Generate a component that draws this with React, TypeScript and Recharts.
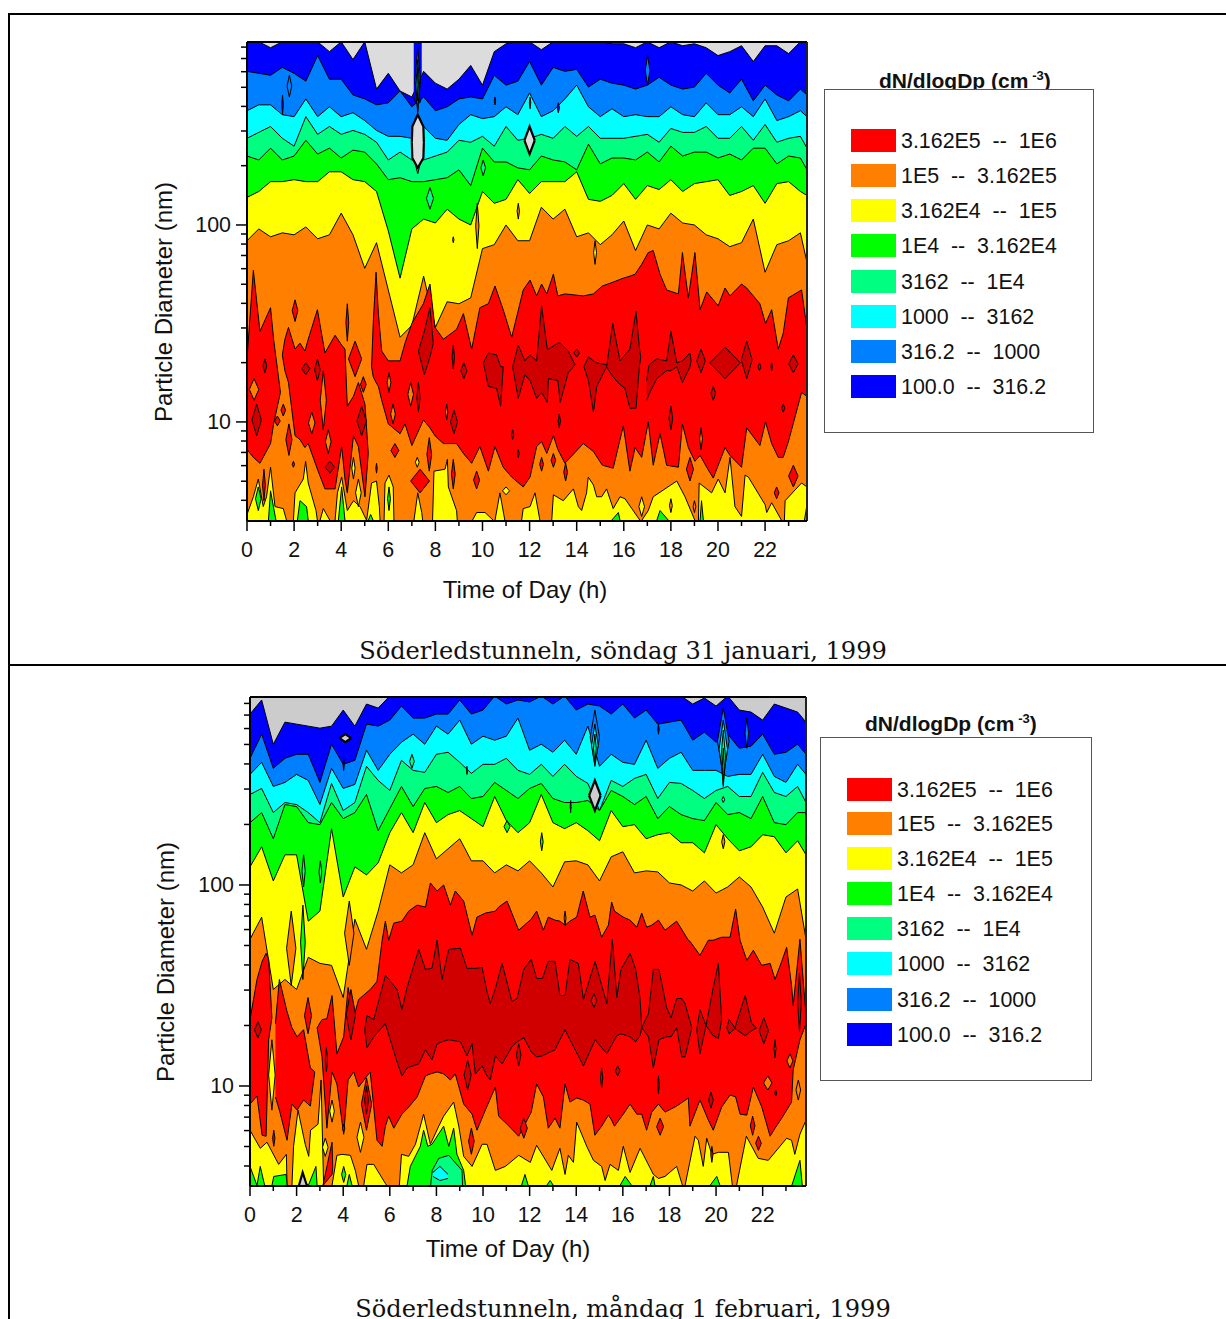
import { Area, ComposedChart, ReferenceLine, XAxis, YAxis } from 'recharts'

// y values are log10 of the particle diameter in nm, x values are hours
const DARK_BLUE = '#0000ff'
const BLUE = '#0080ff'
const CYAN = '#00ffff'
const SPRING = '#00ff80'
const GREEN = '#00ff00'
const YELLOW = '#ffff00'
const ORANGE = '#ff8000'
const RED = '#ff0000'
const DARK_RED = '#d00000'
const GRAY_SUN = '#dcdcdc'
const GRAY_MON = '#cccccc'

const legendLabels = [
  '3.162E5  --  1E6',
  '1E5  --  3.162E5',
  '3.162E4  --  1E5',
  '1E4  --  3.162E4',
  '3162  --  1E4',
  '1000  --  3162',
  '316.2  --  1000',
  '100.0  --  316.2',
]
const legendColors = [RED, ORANGE, YELLOW, GREEN, SPRING, CYAN, BLUE, DARK_BLUE]

const hourTicks = Array.from({ length: 24 }, (_, i) => i)
const sizeTicks = [4, 5, 6, 7, 8, 9, 10, 20, 30, 40, 50, 60, 70, 80, 90, 100, 200, 300, 400, 500, 600, 700, 800]

const halfHours = Array.from({ length: 48 }, (_, i) => i / 2)
const hours1 = [...halfHours, 23.78]
const hours2 = [...halfHours, 23.86]

// ---- Sunday: contour edges, top to bottom
const grayEdge1 = [2.93,2.93,2.90,2.93,2.93,2.93,2.93,2.88,2.93,2.84,2.93,2.69,2.77,2.68,2.65,2.78,2.72,2.69,2.74,2.81,2.71,2.88,2.92,2.93,2.93,2.89,2.93,2.93,2.93,2.93,2.93,2.92,2.92,2.90,2.93,2.90,2.93,2.91,2.92,2.90,2.86,2.88,2.91,2.83,2.91,2.91,2.87,2.93,2.93]
const darkBlueEdge1 = [2.78,2.77,2.76,2.80,2.77,2.73,2.86,2.74,2.74,2.66,2.64,2.61,2.62,2.68,2.60,2.65,2.58,2.60,2.64,2.65,2.64,2.76,2.71,2.73,2.83,2.71,2.80,2.78,2.79,2.70,2.74,2.72,2.71,2.69,2.71,2.75,2.71,2.69,2.70,2.77,2.71,2.67,2.74,2.63,2.71,2.66,2.63,2.69,2.66]
const blueEdge1 = [2.58,2.61,2.61,2.56,2.55,2.64,2.55,2.60,2.55,2.57,2.53,2.48,2.45,2.45,2.44,2.50,2.44,2.43,2.51,2.56,2.54,2.55,2.60,2.56,2.67,2.55,2.58,2.64,2.71,2.60,2.55,2.59,2.55,2.56,2.55,2.55,2.60,2.56,2.55,2.62,2.56,2.56,2.60,2.55,2.64,2.53,2.55,2.58,2.55]
const cyanEdge1 = [2.44,2.47,2.50,2.44,2.40,2.55,2.46,2.50,2.46,2.48,2.46,2.42,2.33,2.37,2.33,2.33,2.35,2.37,2.43,2.42,2.45,2.40,2.50,2.43,2.44,2.46,2.44,2.50,2.45,2.50,2.44,2.44,2.44,2.45,2.46,2.42,2.49,2.47,2.47,2.50,2.44,2.44,2.50,2.43,2.51,2.42,2.44,2.45,2.39]
const springEdge1 = [2.35,2.33,2.39,2.33,2.35,2.43,2.36,2.39,2.34,2.38,2.37,2.31,2.23,2.24,2.22,2.22,2.23,2.24,2.28,2.20,2.39,2.32,2.32,2.29,2.28,2.35,2.33,2.32,2.28,2.41,2.31,2.34,2.34,2.33,2.37,2.32,2.40,2.35,2.37,2.37,2.34,2.36,2.33,2.39,2.39,2.31,2.35,2.34,2.28]
const greenEdge1 = [2.14,2.17,2.22,2.22,2.23,2.22,2.22,2.27,2.27,2.23,2.22,2.17,1.97,1.73,1.98,2.03,2.01,2.08,2.03,2.00,2.17,2.11,2.13,2.23,2.16,2.22,2.22,2.22,2.27,2.13,2.12,2.15,2.21,2.13,2.20,2.18,2.23,2.17,2.21,2.22,2.23,2.15,2.17,2.20,2.11,2.21,2.22,2.17,2.15]
const yellowEdge1 = [1.92,1.98,1.94,1.96,1.95,1.99,1.93,1.95,2.06,1.95,1.78,1.91,1.67,1.43,1.49,1.74,1.48,1.61,1.60,1.63,1.88,1.90,2.00,1.92,1.92,2.09,2.03,2.08,1.94,1.96,1.90,1.95,2.02,1.87,2.00,1.98,2.06,2.01,2.00,1.95,1.93,1.89,1.91,2.03,1.76,1.90,1.92,1.96,1.81]

// ---- Sunday: closed patches as [hours, high edge, low edge]; no low edge means down to the axis
const redPieces1 = [
  [[0,.27,.55,1.0,1.13,1.42],[1.32,1.77,1.46,1.58,1.42,1.15],[.86,.82,.79,.89,.99,1.15]],
  [[1.5,1.61,1.76,2.04,2.25,2.46,2.6,2.99,3.31,3.74,4.02,4.16,4.26,4.52,4.73,5.01,5.15],[1.34,1.42,1.48,1.37,1.40,1.36,1.42,1.57,1.35,1.44,1.39,1.37,1.08,1.13,1.20,1.09,.84],[1.34,1.26,1.20,.93,.91,.87,.89,.76,.66,.66,.875,.71,.64,.93,.875,.62,.84]],
  [[5.29,5.36,5.48,5.58,5.72,6.0,6.5,6.71,7.0,7.49,7.77,7.98,8.34,8.9,9.19,9.54,9.89,10.25,10.53,10.88,11.24,11.73,12.02,12.3,12.51,12.73,13.01,13.2,13.5,14.28,14.71,15.09,15.55,15.98,16.26,16.48,16.76,17.04,17.25,17.54,17.82,18.32,18.49,18.74,19.02,19.24,19.52,19.8,20.01,20.3,20.51,21.0,21.22,21.78,22.02,22.28,22.56,22.77,22.99,23.55,23.78],
   [1.28,1.50,1.76,1.55,1.36,1.31,1.31,1.40,1.50,1.60,1.70,1.48,1.42,1.47,1.55,1.37,1.58,1.60,1.69,1.57,1.43,1.67,1.72,1.64,1.70,1.65,1.75,1.64,1.65,1.64,1.65,1.69,1.71,1.73,1.74,1.75,1.80,1.86,1.87,1.75,1.67,1.65,1.86,1.63,1.86,1.57,1.66,1.62,1.59,1.68,1.64,1.70,1.68,1.60,1.50,1.57,1.37,1.45,1.63,1.67,1.47],
   [1.28,1.23,1.20,1.18,1.11,.99,.94,.99,.88,1.01,.97,.93,.89,.89,.84,.79,.875,.75,.875,.77,.72,.67,.72,.875,.90,.84,.93,.86,.79,.89,.85,.78,.765,.98,.75,.87,.82,1.0,.78,.94,.78,.77,.99,.87,.80,.83,.77,.715,.78,.87,.83,.77,.97,.88,1.0,.89,.82,.82,.90,1.15,1.13]],
]
const darkRedPieces1 = [
  [[7.28,7.53,7.77,7.91],[1.36,1.46,1.58,1.40],[1.36,1.24,1.33,1.40]],
  [[10.04,10.25,10.6,10.77,10.88],[1.30,1.35,1.34,1.28,1.28],[1.30,1.18,1.17,1.08,1.28]],
  [[11.28,11.52,11.8,12.02,12.3,12.51,12.75,12.8,13.2,13.3,13.64,13.93],[1.28,1.39,1.31,1.34,1.31,1.59,1.37,1.37,1.40,1.40,1.36,1.29],[1.28,1.12,1.24,1.21,1.12,1.15,1.10,1.22,1.21,1.10,1.25,1.29]],
  [[14.31,14.5,14.71,14.85,15.27],[1.28,1.33,1.31,1.30,1.29],[1.28,1.21,1.05,1.18,1.28]],
  [[15.27,15.53,15.84,16.05,16.26,16.52,16.66,16.72],[1.28,1.50,1.31,1.34,1.37,1.56,1.38,1.33],[1.28,1.23,1.19,1.17,1.07,1.07,1.28,1.33]],
  [[16.97,17.07,17.4,17.82,18.0,18.25,18.49,18.81,18.86],[1.21,1.29,1.32,1.31,1.46,1.30,1.31,1.35,1.31],[1.11,1.14,1.22,1.26,1.26,1.28,1.20,1.28,1.31]],
]
const yellowPieces1 = [
  [[0,.27,.48,.69,.83,1.0,1.19,1.54,1.68],[.53,.62,.71,.57,.62,.77,.57,.56,.50]],
  [[1.97,2.04,2.39,2.49,2.6,2.93,2.99],[.50,.64,.71,.80,.69,.55,.50]],
  [[3.1,3.24,3.52],[.50,.56,.50]],
  [[3.74,3.84,4.02,4.16,4.26,4.52,4.8,5.08],[.50,.64,.72,.62,.55,.60,.57,.50]],
  [[5.08,5.29,5.5,5.62,5.65],[.50,.69,.70,.57,.50]],
  [[5.82,5.86,6.03,6.21,6.24],[.50,.69,.73,.67,.50]],
  [[7.09,7.25,7.42,7.46],[.50,.64,.54,.50]],
  [[7.88,7.94,8.41,8.51,8.55,8.9,8.93],[.50,.75,.76,.81,.67,.55,.50]],
  [[9.57,9.75,10.11,10.46],[.50,.54,.54,.50]],
  [[10.53,10.74,10.95],[.50,.64,.50]],
  [[11.66,11.73,12.02,12.23,12.44],[.50,.56,.57,.64,.50]],
  [[12.94,13.01,13.43,13.86,14.07,14.21,14.42,14.49,14.71,14.85,15.06,15.27,15.55,15.84,16.05,16.69],[.50,.63,.60,.66,.57,.55,.64,.72,.68,.62,.62,.66,.56,.62,.61,.50]],
  [[16.76,17.04,17.25,18.25,18.6,19.02],[.50,.55,.62,.70,.62,.50]],
  [[19.17,19.2,19.73,20.01,20.3,20.51,20.72,21.0,21.15,21.29,22.0,22.07,22.28,22.7],[.50,.69,.64,.71,.64,.82,.57,.52,.73,.72,.58,.54,.59,.50]],
  [[22.82,22.85,23.55,23.78],[.50,.60,.69,.67]],
]
const greenPieces1 = [
  [[.91,1.0,1.23],[.50,.65,.50]],
  [[2.14,2.25,2.53,2.6],[.50,.60,.57,.50]],
  [[3.88,4.02,4.16],[.50,.67,.50]],
  [[5.15,5.25,5.36],[.50,.53,.50]],
  [[15.48,15.77,15.84],[.50,.54,.50]],
  [[17.4,17.54,17.9],[.50,.55,.50]],
  [[19.24,19.3,19.38],[.50,.60,.50]],
  [[23.67,23.78],[.50,.58]],
]
const spikePieces1 = [[[7.08,7.16,7.34,7.42],[2.93,2.93,2.93,2.93],[2.65,2.62,2.62,2.65]]]
const grayHexPieces1 = [[[7.0,7.02,7.25,7.49,7.51],[2.42,2.50,2.56,2.50,2.42],[2.42,2.34,2.29,2.34,2.42]]]

// ---- Sunday: small diamonds as [hour, half width, high, low]
const darkBlueIslands1 = [[1.51,.03,2.66,2.56],[10.53,.03,2.65,2.61],[12.02,.03,2.65,2.59],[13.22,.05,2.62,2.57]]
const blueIslands1 = [[1.8,.1,2.76,2.65],[7.25,.12,2.90,2.57],[17.01,.1,2.86,2.71]]
const cyanIslands1 = [[7.25,.08,2.84,2.58],[7.25,.25,2.5,2.26]]
const springIslands1 = [[7.77,.15,2.19,2.08],[10.03,.1,2.33,2.25]]
const greenIslands1 = [[7.25,.03,2.80,2.63],[.48,.12,.67,.55],[6.03,.06,.67,.55]]
const yellowIslands1 = [[14.78,.06,1.92,1.80],[4.52,.07,.82,.71],[4.73,.12,.71,.57],[7.23,.08,.82,.77],[11,.15,.67,.63],[16.76,.12,.62,.52]]
const orangeIslands1 = [[11.52,.05,2.11,2.03],[9.78,.07,2.11,1.88],[8.76,.03,1.94,1.91],[.3,.2,1.22,1.11],[2.75,.14,1.05,.94],[3.24,.13,1.26,.96],[3.45,.12,.96,.84],[6.03,.08,1.25,1.15],[6.2,.1,1.09,.99],[6.95,.12,1.20,1.08],[8.48,.05,1.09,1.01],[19.28,.06,.97,.86],[18.0,.06,.61,.54],[19.0,.06,.60,.54]]
const redIslands1 = [[2.04,.12,1.62,1.51],[4.26,.06,1.60,1.41],[.72,.06,.76,.60],[1.54,.1,1.09,1.03],[1.29,.12,1.03,.98],[1.78,.13,.99,.83],[6.28,.17,.89,.82],[7.74,.1,.92,.75],[8.76,.08,.81,.66],[9.75,.13,.75,.66],[5.5,.03,.79,.74],[1.97,.05,.80,.77],[4.59,.28,1.41,1.23],[7.35,.4,.76,.64],[4.94,.12,1.23,1.15],[12.51,.08,.82,.75],[13.01,.1,.84,.77],[13.53,.08,.79,.70],[18.81,.15,.82,.70],[23.2,.2,.78,.67],[22.49,.1,.67,.61]]
const darkRedIslands1 = [[.41,.2,1.09,.93],[.76,.08,1.32,1.25],[2.5,.17,1.30,1.24],[2.99,.12,1.32,1.21],[3.52,.2,.80,.74],[4.87,.2,1.08,.93],[8.76,.05,1.39,1.27],[9.21,.13,1.30,1.22],[8.79,.15,1.06,.94],[7.28,.07,1.20,1.05],[11.28,.05,.96,.91],[11.52,.04,.86,.82],[14.0,.12,1.37,1.33],[19.28,.18,1.37,1.25],[20.3,.65,1.38,1.22],[21.22,.23,1.41,1.22],[21.76,.06,1.30,1.26],[22.28,.03,1.30,1.26],[23.2,.2,1.34,1.25],[19.8,.1,1.18,1.11],[18.0,.08,1.08,.96],[22.77,.07,1.09,1.05],[13.26,.05,1.04,.97]]
const grayIslands1 = [[12.0,.22,2.50,2.36]]

// ---- Monday: contour edges, top to bottom
const grayEdge2 = [2.85,2.92,2.70,2.81,2.80,2.79,2.78,2.79,2.87,2.79,2.90,2.88,2.94,2.94,2.94,2.94,2.94,2.94,2.94,2.94,2.94,2.94,2.94,2.94,2.94,2.94,2.94,2.94,2.94,2.94,2.94,2.94,2.94,2.94,2.94,2.94,2.94,2.94,2.90,2.93,2.89,2.94,2.87,2.86,2.82,2.90,2.88,2.86,2.81]
const darkBlueEdge2 = [2.63,2.75,2.58,2.63,2.65,2.65,2.51,2.70,2.60,2.62,2.80,2.79,2.82,2.89,2.83,2.83,2.85,2.85,2.92,2.85,2.87,2.94,2.90,2.92,2.91,2.94,2.90,2.94,2.87,2.90,2.89,2.85,2.90,2.83,2.87,2.80,2.81,2.82,2.72,2.76,2.71,2.75,2.68,2.69,2.75,2.65,2.66,2.70,2.65]
const blueEdge2 = [2.55,2.61,2.49,2.51,2.55,2.52,2.40,2.58,2.48,2.50,2.67,2.57,2.65,2.71,2.75,2.70,2.79,2.75,2.82,2.70,2.74,2.72,2.74,2.83,2.67,2.70,2.66,2.72,2.65,2.79,2.59,2.65,2.61,2.60,2.72,2.58,2.63,2.66,2.57,2.57,2.57,2.54,2.55,2.55,2.65,2.54,2.51,2.60,2.55]
const cyanEdge2 = [2.45,2.48,2.36,2.41,2.40,2.36,2.31,2.505,2.37,2.41,2.59,2.52,2.47,2.62,2.57,2.56,2.65,2.66,2.61,2.555,2.60,2.60,2.63,2.57,2.55,2.60,2.54,2.60,2.54,2.505,2.37,2.52,2.49,2.53,2.55,2.43,2.51,2.505,2.47,2.43,2.47,2.49,2.44,2.44,2.56,2.46,2.44,2.49,2.41]
const springEdge2 = [2.31,2.36,2.23,2.40,2.39,2.31,2.30,2.41,2.33,2.36,2.45,2.27,2.38,2.49,2.39,2.48,2.49,2.46,2.49,2.43,2.44,2.51,2.47,2.43,2.48,2.505,2.43,2.41,2.41,2.42,2.37,2.47,2.44,2.40,2.44,2.33,2.39,2.35,2.33,2.32,2.41,2.35,2.36,2.33,2.44,2.31,2.30,2.36,2.36]
const greenEdge2 = [2.09,2.19,2.02,2.15,2.15,1.82,1.87,2.28,1.94,2.09,2.05,2.11,2.26,2.36,2.26,2.41,2.31,2.35,2.37,2.33,2.29,2.44,2.32,2.26,2.31,2.45,2.31,2.28,2.31,2.27,2.22,2.37,2.29,2.30,2.23,2.25,2.26,2.21,2.21,2.16,2.30,2.23,2.17,2.19,2.25,2.24,2.16,2.22,2.15]
const yellowEdge2 = [1.73,1.84,1.48,1.53,1.48,1.64,1.61,1.60,1.44,1.83,1.68,1.87,2.10,2.06,2.10,2.26,2.13,2.18,2.23,2.12,2.12,2.06,2.10,2.07,2.12,2.06,1.99,2.115,2.12,2.10,2.02,2.14,2.165,2.06,2.07,2.065,2.01,2.00,1.97,2.02,1.96,1.99,2.04,1.99,1.89,1.76,1.94,1.98,1.73]

// ---- Monday: closed patches
const redPieces2 = [
  [[0,.3,.52,.69,.8,.94],[1.33,1.53,1.62,1.66,1.63,1.34],[.91,.95,.755,.75,1.23,1.34]],
  [[1.09,1.26,1.59,1.8,2.02,2.3,2.59,2.78],[1.31,1.53,1.37,1.29,1.245,1.28,1.09,1.07],[.945,.88,.73,.91,.88,.93,.90,1.07]],
  [[2.88,3.09,3.30,3.52,3.73,4.02,4.21,4.45,4.66,5.16,5.45,5.67,5.81,5.95,6.17,6.52,6.81,7.17,7.53,7.74,8.03,8.31,8.6,8.81,9.17,9.53,9.74,10.1,10.53,10.67,11.03,11.53,12.07,12.3,12.59,12.8,13.09,13.3,13.52,13.73,14.02,14.3,14.59,14.8,15.09,15.38,15.52,15.64,16.02,16.31,16.6,16.81,17.02,17.24,17.53,17.81,18.31,18.81,18.88,19.31,19.67,19.88,20.24,20.6,20.84,21.03,21.32,21.6,21.96,22.32,22.53,22.82,23.03,23.24,23.31,23.6,23.86],
   [1.29,1.33,1.335,1.45,1.16,1.245,1.49,1.34,1.43,1.48,1.52,1.725,1.82,1.725,1.81,1.82,1.87,1.90,1.89,2.01,1.97,2.00,1.90,1.97,1.92,1.75,1.84,1.86,1.87,1.89,1.92,1.775,1.83,1.87,1.775,1.84,1.825,1.82,1.80,1.82,1.84,1.97,1.84,1.85,1.74,1.80,1.915,1.87,1.84,1.825,1.79,1.86,1.79,1.80,1.825,1.775,1.82,1.725,1.72,1.65,1.725,1.725,1.74,1.74,1.88,1.725,1.625,1.675,1.60,1.61,1.53,1.62,1.69,1.50,1.40,1.73,1.35],
   [1.29,1.145,.79,1.07,1.01,.76,1.03,1.07,.995,1.07,.73,.70,.80,.85,.79,.86,.895,.945,1.05,1.06,1.07,1.06,1.03,1.06,.91,.86,.78,.88,.995,.85,.81,.75,.87,1.01,.946,.79,.84,.79,1.01,.92,.94,.93,.91,.755,.80,.855,.83,.80,.86,.91,.86,.86,.78,.87,.91,.87,.90,.94,.80,.93,.83,.78,.895,.955,.946,.86,.855,.995,.896,.75,.79,.84,.88,.92,1.08,1.23,1.31]],
  [[3.13,3.52,3.55],[.505,.72,.60],[.505,.56,.60]],
]
const darkRedPieces2 = [
  [[4.92,5.02,5.31,5.81,6.31,6.52,6.74,7.24,7.53,7.81,8.03,8.24,8.53,9.03,9.31,9.53,9.67,9.96,10.17,10.31,10.53,10.82,11.24,11.46,11.75,12.07,12.3,12.55,12.8,13.09,13.3,13.52,13.73,14.09,14.31,14.81,15.31,15.55,15.74,15.92,16.31,16.55,16.74,16.81],
   [1.28,1.35,1.33,1.55,1.48,1.38,1.49,1.68,1.58,1.585,1.726,1.53,1.68,1.685,1.585,1.585,1.585,1.59,1.47,1.41,1.485,1.61,1.42,1.435,1.58,1.63,1.535,1.535,1.62,1.62,1.45,1.45,1.63,1.61,1.43,1.62,1.41,1.73,1.44,1.58,1.66,1.58,1.435,1.29],
   [1.28,1.19,1.245,1.31,1.12,1.05,1.09,1.11,1.18,1.13,1.21,1.22,1.23,1.22,1.15,1.21,1.06,1.10,1.05,1.03,1.15,1.11,1.195,1.22,1.24,1.17,1.145,1.15,1.165,1.18,1.23,1.28,1.23,1.15,1.10,1.23,1.16,1.21,1.25,1.26,1.245,1.22,1.25,1.29]],
  [[16.81,17.1,17.31,17.55,17.88,18.07,18.31,18.53,18.67,18.96],[1.29,1.36,1.58,1.58,1.39,1.34,1.435,1.435,1.41,1.29],[1.29,1.245,1.09,1.23,1.245,1.245,1.29,1.145,1.145,1.29]],
  [[19.17,19.31,19.57,19.88,20.1,20.24],[1.28,1.38,1.30,1.49,1.61,1.33],[1.28,1.16,1.30,1.25,1.236,1.33]],
  [[20.46,20.56,20.81,21.25,21.53,21.75],[1.29,1.33,1.29,1.45,1.31,1.29],[1.29,1.26,1.286,1.25,1.275,1.29]],
]
const yellowPieces2 = [
  [[0,.44,.73,1.23,1.56,1.59],[.78,.69,.72,.61,.66,.505]],
  [[1.8,1.87,2.06,2.37,2.52,2.6,2.92,3.05,3.16],[.505,.70,.88,.71,.65,.78,.81,1.03,.505]],
  [[3.52,3.73,3.95,4.31,4.52,4.66],[.505,.655,.66,.655,.58,.505]],
  [[4.88,5.02,5.31,5.81,5.88],[.505,.61,.61,.515,.505]],
  [[6.41,6.5,6.81,7.1,7.45,7.74,8.1,8.31,8.74,8.96,9.17,9.53,9.96,10.17,10.53,10.96,11.53,12.03,12.3,12.95,13.3,13.52,13.66,13.88,14.02,14.45,14.74,15.09,15.24,15.45,15.81,16.02,16.31,16.74,17.31,17.53,17.81,18.31,18.56],
   [.505,.66,.65,.71,.86,.71,.80,.85,.92,.80,.65,.60,.71,.71,.58,.60,.655,.62,.705,.58,.69,.56,.655,.62,.82,.70,.63,.60,.53,.61,.58,.70,.57,.69,.56,.54,.55,.60,.505]],
  [[18.67,19.1,19.24,19.45,19.6,19.82,20.1,20.53,20.7],[.505,.75,.73,.60,.74,.66,.67,.67,.505]],
  [[20.88,21.3,21.81,22.24,23.03,23.24,23.38,23.6,23.86],[.505,.75,.64,.63,.74,.73,.66,.76,.83]],
]
const greenPieces2 = [
  [[0,.3],[.60,.505]],
  [[.3,.44,.63],[.505,.60,.505]],
  [[.94,1.02,1.55,1.59],[.505,.55,.56,.505]],
  [[2.3,2.52,2.83,2.88],[.505,.51,.60,.505]],
  [[4.16,4.26,4.38],[.505,.56,.505]],
  [[6.74,6.88,7.31,7.45,7.63,7.81,8.31,8.53,8.74,8.88,9.17,9.25],[.505,.60,.70,.78,.70,.71,.80,.70,.79,.66,.58,.505]],
  [[11.65,11.8,11.94],[.505,.56,.505]],
  [[12.73,12.88,13.02],[.505,.53,.505]],
  [[15.88,16.1,16.38],[.505,.55,.505]],
  [[17.17,17.31,17.38],[.505,.55,.505]],
  [[19.74,20.03,20.17],[.505,.55,.505]],
  [[23.25,23.6,23.7],[.505,.63,.505]],
]
const springPieces2 = [[[7.75,7.82,8.1,8.53,9.1,9.12],[.505,.58,.64,.655,.58,.505]]]
const cyanPieces2 = [[[7.85,8.15,8.5],[.57,.60,.56],[.55,.53,.54]]]
const grayPieces2 = [[[2.1,2.26,2.44],[.505,.57,.505]]]

// ---- Monday: small diamonds
const darkBlueIslands2 = [[4.02,.03,2.63,2.57],[13.76,.02,2.42,2.36],[17.53,.03,2.80,2.75]]
const blueIslands2 = [[14.8,.2,2.87,2.6],[20.31,.25,2.88,2.55],[21.32,.08,2.83,2.68]]
const cyanIslands2 = [[14.8,.14,2.80,2.59],[20.31,.18,2.82,2.53],[20.31,.06,2.44,2.41]]
const springIslands2 = [[14.8,.06,2.75,2.61],[20.31,.1,2.77,2.49],[2.3,.07,2.15,1.99],[3.02,.06,2.12,2.01],[6.95,.1,2.65,2.58]]
const greenIslands2 = [[20.31,.04,2.68,2.50],[11.03,.13,2.32,2.26],[9.31,.02,2.59,2.55],[2.27,.1,1.9,1.53],[12.52,.06,2.26,2.17],[4.02,.09,.60,.52]]
const yellowIslands2 = [[4.74,.15,.82,.67],[3.23,.12,.74,.65],[3.52,.1,.93,.82],[.94,.14,1.23,.88]]
const orangeIslands2 = [[1.77,.2,1.87,1.50],[4.26,.2,1.92,1.6],[20.31,.07,2.25,2.18],[13.52,.04,1.87,1.80],[22.53,.04,1.23,1.14],[22.22,.18,1.05,.98],[23.53,.1,1.03,.93],[23.17,.13,1.16,1.09]]
const redIslands2 = [[2.49,.15,1.44,1.26],[5.0,.22,1.04,.78],[4.02,.05,.81,.77],[9.5,.12,.79,.66],[11.75,.15,.84,.74],[1.02,.05,.78,.70],[14.76,.12,1.46,1.39],[17.6,.15,.84,.755],[21.57,.1,.85,.755],[21.82,.12,.75,.68],[19.82,.05,.70,.62]]
const darkRedIslands2 = [[.34,.15,1.32,1.24],[4.33,.2,1.48,1.23],[3.28,.05,1.19,1.07],[5.0,.08,1.0,.86],[9.34,.15,1.13,.98],[11.53,.1,1.21,1.10],[19.78,.1,.97,.89],[15.78,.1,1.10,1.05],[15.09,.05,1.09,.99],[17.53,.03,1.05,.96],[22.56,.04,.98,.95],[22.05,.2,1.34,1.21],[23.58,.08,1.56,1.27]]
const grayIslands2 = [[14.8,.25,2.52,2.37],[4.09,.25,2.75,2.71]]

type Piece = number[][]
type Island = number[]

function ContourPlot({ left, top, width, height, yAxisWidth, plotWidth, marginTop, xAxisHeight, xMax, yMin, yMax, hours, edges, pieces, islands, topPieces, bg }: any) {
  const rows = hours.map((t: number, i: number) => {
    const row: Record<string, number> = { t }
    edges.forEach((e: { values: number[] }, j: number) => { row['e' + j] = e.values[i] })
    return row
  })
  const patches: { color: string; rows: object[] }[] = []
  const addPieces = ([color, list]: [string, Piece[]]) => list.forEach(([t, hi, lo]) => {
    patches.push({ color, rows: t.map((v, i) => ({ t: v, range: [lo ? lo[i] : yMin, hi[i]] })) })
  })
  pieces.forEach(addPieces)
  islands.forEach(([color, list]: [string, Island[]]) => list.forEach(([t, half, hi, lo]) => {
    const mid = (hi + lo) / 2
    patches.push({ color, rows: [{ t: t - half, range: [mid, mid] }, { t, range: [lo, hi] }, { t: t + half, range: [mid, mid] }] })
  }))
  topPieces.forEach(addPieces)

  return (
    <div style={{ position: 'absolute', left, top }}>
      <ComposedChart width={width} height={height} data={rows} margin={{ top: marginTop, right: width - yAxisWidth - plotWidth, bottom: 0, left: 0 }}>
        <XAxis
          dataKey="t"
          type="number"
          domain={[0, xMax]}
          ticks={hourTicks}
          interval={0}
          height={xAxisHeight}
          tickSize={0}
          tickMargin={0}
          axisLine={{ stroke: '#000', strokeWidth: 2 }}
          tickLine={false}
          tick={HourTick}
        />
        <YAxis
          type="number"
          domain={[yMin, yMax]}
          allowDataOverflow
          ticks={sizeTicks.map(v => Math.log10(v))}
          interval={0}
          width={yAxisWidth}
          tickSize={0}
          tickMargin={0}
          axisLine={{ stroke: '#000', strokeWidth: 2 }}
          tickLine={false}
          tick={SizeTick}
        />
        <Area dataKey={() => yMax} fill={bg} fillOpacity={1} stroke="none" isAnimationActive={false} dot={false} activeDot={false} />
        {edges.map((e: { color: string }, j: number) => (
          <Area key={j} type="linear" dataKey={'e' + j} fill={e.color} fillOpacity={1} stroke="#000" strokeWidth={1} isAnimationActive={false} dot={false} activeDot={false} />
        ))}
        {patches.map((p, i) => (
          <Area
            key={'p' + i}
            data={p.rows}
            type="linear"
            dataKey="range"
            fill={p.color}
            fillOpacity={1}
            stroke="#000"
            strokeWidth={p.color === GRAY_SUN || p.color === GRAY_MON ? 2.2 : 1}
            isAnimationActive={false}
            dot={false}
            activeDot={false}
          />
        ))}
        <ReferenceLine y={yMax} stroke="#000" strokeWidth={2} />
        <ReferenceLine x={xMax} stroke="#222" strokeWidth={2} />
      </ComposedChart>
    </div>
  )
}

function HourTick({ x, y, payload }: any) {
  const even = payload.value % 2 === 0
  return (
    <g>
      <line x1={x} x2={x} y1={y} y2={y + (even ? 10 : 5)} stroke="#000" strokeWidth={1.5} />
      {even && <text x={x} y={y + 36} textAnchor="middle" fontFamily="Liberation Sans" fontSize={21.4} fill="#111">{payload.value}</text>}
    </g>
  )
}

function SizeTick({ x, y, payload }: any) {
  const major = Math.abs(payload.value - Math.round(payload.value)) < 0.001
  return (
    <g>
      <line x1={x} x2={x - (major ? 11 : 6)} y1={y} y2={y} stroke="#000" strokeWidth={1.5} />
      {major && <text x={x - 16} y={y + 7} textAnchor="end" fontFamily="Liberation Sans" fontSize={21.4} fill="#111">{Math.round(10 ** payload.value)}</text>}
    </g>
  )
}

function Legend({ left, top, width, height, titleLeft, titleTop, rowTops, swatchLeft }: any) {
  return (
    <>
      <div style={{ position: 'absolute', left: titleLeft, top: titleTop, font: 'bold 21px "Liberation Sans"', whiteSpace: 'pre', color: '#111' }}>
        dN/dlogDp (cm <sup style={{ fontSize: 13, verticalAlign: 8, lineHeight: 0, marginLeft: -2 }}>-3</sup>)
      </div>
      <div style={{ position: 'absolute', left, top, width, height, background: '#fff', border: '1px solid #555', boxSizing: 'border-box' }} />
      {legendLabels.map((label, i) => (
        <div key={label}>
          <div style={{ position: 'absolute', left: swatchLeft, top: rowTops[i], width: 45, height: 23, background: legendColors[i] }} />
          <div style={{ position: 'absolute', left: swatchLeft + 50, top: rowTops[i], font: '21.4px/24px "Liberation Sans"', whiteSpace: 'pre', color: '#111' }}>{label}</div>
        </div>
      ))}
    </>
  )
}

function AxisTitle({ x, y, children, rotate }: any) {
  return (
    <div style={{ position: 'absolute', left: x, top: y, transform: `translate(-50%,-50%)${rotate ? ' rotate(-90deg)' : ''}`, font: '24px "Liberation Sans"', whiteSpace: 'nowrap', color: '#111' }}>
      {children}
    </div>
  )
}

function Caption({ x, y, children }: any) {
  return (
    <div style={{ position: 'absolute', left: x, top: y, transform: 'translate(-50%,-50%)', font: '24.1px "DejaVu Serif"', whiteSpace: 'nowrap', color: '#111' }}>
      {children}
    </div>
  )
}

const edges1 = [
  { color: DARK_BLUE, values: grayEdge1 }, { color: BLUE, values: darkBlueEdge1 }, { color: CYAN, values: blueEdge1 },
  { color: SPRING, values: cyanEdge1 }, { color: GREEN, values: springEdge1 }, { color: YELLOW, values: greenEdge1 }, { color: ORANGE, values: yellowEdge1 },
]
const edges2 = [
  { color: DARK_BLUE, values: grayEdge2 }, { color: BLUE, values: darkBlueEdge2 }, { color: CYAN, values: blueEdge2 },
  { color: SPRING, values: cyanEdge2 }, { color: GREEN, values: springEdge2 }, { color: YELLOW, values: greenEdge2 }, { color: ORANGE, values: yellowEdge2 },
]
const pieces1 = [[YELLOW, yellowPieces1], [GREEN, greenPieces1], [RED, redPieces1], [DARK_RED, darkRedPieces1], [DARK_BLUE, spikePieces1]]
const pieces2 = [[YELLOW, yellowPieces2], [GREEN, greenPieces2], [SPRING, springPieces2], [CYAN, cyanPieces2], [GRAY_MON, grayPieces2], [RED, redPieces2], [DARK_RED, darkRedPieces2]]
const islands1 = [[DARK_BLUE, darkBlueIslands1], [BLUE, blueIslands1], [CYAN, cyanIslands1], [SPRING, springIslands1], [GREEN, greenIslands1], [YELLOW, yellowIslands1], [ORANGE, orangeIslands1], [RED, redIslands1], [DARK_RED, darkRedIslands1], [GRAY_SUN, grayIslands1]]
const islands2 = [[DARK_BLUE, darkBlueIslands2], [BLUE, blueIslands2], [CYAN, cyanIslands2], [SPRING, springIslands2], [GREEN, greenIslands2], [YELLOW, yellowIslands2], [ORANGE, orangeIslands2], [RED, redIslands2], [DARK_RED, darkRedIslands2], [GRAY_MON, grayIslands2]]

export default function App() {
  return (
    <div style={{ position: 'absolute', left: 0, top: 0, width: 1226, height: 1319, overflow: 'hidden', background: '#fff' }}>
      <Caption x={623} y={651}>Söderledstunneln, söndag 31 januari, 1999</Caption>
      <Caption x={623} y={1309}>Söderledstunneln, måndag 1 februari, 1999</Caption>

      <ContourPlot left={140} top={30} width={680} height={580} yAxisWidth={107} plotWidth={560} marginTop={12} xAxisHeight={89} xMax={23.78} yMin={0.497} yMax={2.929} hours={hours1} edges={edges1} pieces={pieces1} islands={islands1} topPieces={[[GRAY_SUN, grayHexPieces1]]} bg={GRAY_SUN} />
      <AxisTitle x={164} y={302} rotate>Particle Diameter (nm)</AxisTitle>
      <AxisTitle x={525} y={590}>Time of Day (h)</AxisTitle>
      <Legend left={824} top={89} width={270} height={344} titleLeft={879} titleTop={69} swatchLeft={851} rowTops={[129, 164, 199, 234, 270, 305, 340, 375]} />

      <ContourPlot left={140} top={680} width={680} height={590} yAxisWidth={110} plotWidth={556} marginTop={17} xAxisHeight={84} xMax={23.86} yMin={0.5025} yMax={2.935} hours={hours2} edges={edges2} pieces={pieces2} islands={islands2} topPieces={[]} bg={GRAY_MON} />
      <AxisTitle x={166} y={962} rotate>Particle Diameter (nm)</AxisTitle>
      <AxisTitle x={508} y={1249}>Time of Day (h)</AxisTitle>
      <Legend left={820} top={737} width={272} height={344} titleLeft={865} titleTop={712} swatchLeft={847} rowTops={[778, 812, 847, 882, 917, 952, 988, 1023]} />

      <div style={{ position: 'absolute', left: 8, top: 13, width: 1218, height: 2, background: '#000' }} />
      <div style={{ position: 'absolute', left: 8, top: 664, width: 1218, height: 2, background: '#000' }} />
      <div style={{ position: 'absolute', left: 8, top: 13, width: 2, height: 1306, background: '#000' }} />
    </div>
  )
}
